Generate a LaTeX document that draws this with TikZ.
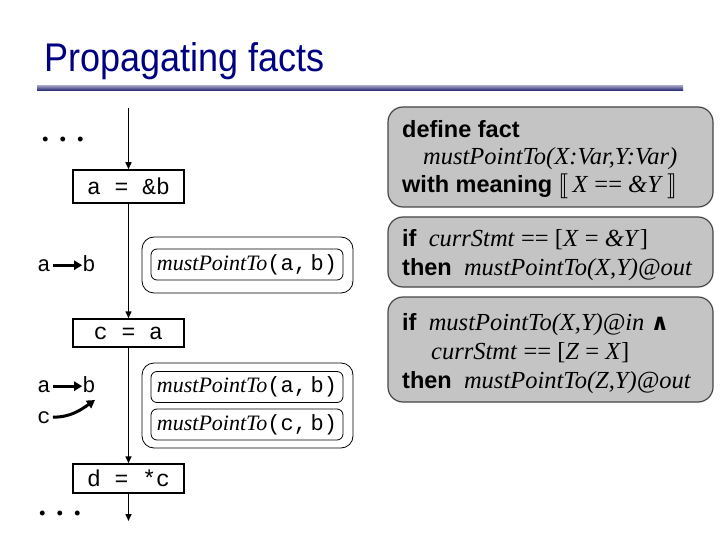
\documentclass[tikz,border=0pt]{standalone}
\usepackage{fontspec}
\setmainfont{Liberation Serif}
\setsansfont{Liberation Sans}
\setmonofont{Liberation Mono}
\newfontfamily\dejavu{DejaVu Sans}
\usepackage{stmaryrd}
\usetikzlibrary{arrows.meta}
\definecolor{titleblue}{RGB}{0,0,128}
\definecolor{rulefill}{RGB}{196,196,196}
\definecolor{ruleedge}{RGB}{70,70,70}
\tikzset{
  stmtbox/.style={draw, line width=1.5pt, minimum width=111pt, inner sep=0pt,
    font=\ttfamily\fontsize{23}{23}\selectfont},
  flow/.style={line width=1.5pt, -{Triangle[length=7pt,width=6pt]}},
  factouter/.style={draw, line width=0.8pt, rounded corners=12pt, minimum width=211pt, inner sep=0pt},
  factinner/.style={draw, line width=0.8pt, rounded corners=6pt, minimum width=192pt, minimum height=31pt, inner sep=0pt,
    font=\fontsize{22}{22}\selectfont},
  varlab/.style={anchor=base, inner sep=0pt, font=\ttfamily\fontsize{22}{22}\selectfont},
  fatarrow/.style={line width=3pt, -{Triangle[length=8pt,width=9pt]}},
  rulebox/.style={draw=ruleedge, fill=rulefill, line width=1.2pt, rounded corners=15pt, inner sep=0pt},
  rtext/.style={anchor=base west, inner sep=0pt, font=\fontsize{24.5}{24.5}\selectfont},
  dots/.style={anchor=base, inner sep=0pt, font=\bfseries\fontsize{30}{30}\selectfont},
}
\newcommand{\kw}[1]{{\sffamily\bfseries\fontsize{23.5}{23.5}\selectfont #1}}
\begin{document}
\begin{tikzpicture}[x=1pt,y=-1pt]
\useasboundingbox (0,0) rectangle (720,540);
% title
\node[anchor=base west, inner sep=0pt, text=titleblue, font=\sffamily\fontsize{40}{40}\selectfont] (title) at (44,72) {\scalebox{0.9}[1]{Propagating facts}};
\shade[top color=black!10!blue!25!gray!60, bottom color=blue!40!black!80!gray] (37,85.5) rectangle (683,91);

% flow
\coordinate (top) at (128.5,108);
\coordinate (bot) at (128.5,521);
\node[stmtbox, minimum height=33pt] (s1) at (128.5,186.5) {a = \&b};
\node[stmtbox, minimum height=28pt] (s2) at (128.5,333) {c = a};
\node[stmtbox, minimum height=29pt] (s3) at (128.5,478.5) {d = *c};
\draw[flow] (top) -- (s1.north);
\draw[line width=1.5pt] (s1.south) -- (s1.south |- 0,305) coordinate (m1);
\draw[flow] (m1) -- (s2.north);
\draw[flow] (s2.south) -- (s3.north);
\draw[flow] (s3.south) -- (bot);

\node[dots] (d1) at (63,142) {.\,\,.\,\,.};
\node[dots] (d2) at (60,515) {.\,\,.\,\,.};

% fact sets
\node[factouter, minimum height=56pt] (f1) at (247.5,265) {};
\node[factinner] (f1a) at (247,264.5) {\textit{mustPointTo}\texttt{(a,\,b)}};
\node[factouter, minimum height=85pt] (f2) at (247.5,405.5) {};
\node[factinner] (f2a) at (247,387) {\textit{mustPointTo}\texttt{(a,\,b)}};
\node[factinner] (f2b) at (247,424.5) {\textit{mustPointTo}\texttt{(c,\,b)}};

% points-to graphs
\node[varlab] (a1) at (44,271) {a};
\node[varlab] (b1) at (89,271) {b};
\draw[fatarrow] (a1.east) ++(2,0) -- (b1.west |- a1.east);
\node[varlab] (a2) at (44,392) {a};
\node[varlab] (b2) at (89,392) {b};
\node[varlab] (c2) at (44,423) {c};
\draw[fatarrow] (a2.east) ++(2,0) -- (b2.west |- a2.east);
\coordinate (cb) at (95,400);
\draw[fatarrow] ([xshift=2pt]c2.east) to[out=0,in=-145] (cb);

% rule boxes
\node[rulebox, minimum width=325pt, minimum height=100pt] (r1) at (550.5,157) {};
\node[rulebox, minimum width=325pt, minimum height=70pt] (r2) at (550.5,252) {};
\node[rulebox, minimum width=325pt, minimum height=105pt] (r3) at (550.5,349.5) {};

\node[rtext] (t11) at (402,138) {\kw{define fact}};
\node[rtext] (t12) at (423,165) {\textit{mustPointTo(X:Var,Y:Var)}};
\node[rtext] (t13) at (402,193) {\kw{with meaning} $\smash{\llbracket}$\,\textit{X} == \textit{\&Y}\,$\smash{\rrbracket}$};

\node[rtext] (t21) at (402,247) {\kw{if}\ \ \textit{currStmt} == [\textit{X} = \textit{\&Y}]};
\node[rtext] (t22) at (402,275) {\kw{then}\ \ \textit{mustPointTo(X,Y)@out}};

\node[rtext] (t31) at (402,330) {\kw{if}\ \ \textit{mustPointTo(X,Y)@in} {\dejavu\bfseries\fontsize{23}{23}\selectfont ∧}};
\node[rtext] (t32) at (431,359) {\textit{currStmt} == [\textit{Z} = \textit{X}]};
\node[rtext] (t33) at (402,388) {\kw{then}\ \ \textit{mustPointTo(Z,Y)@out}};
\end{tikzpicture}
\end{document}
